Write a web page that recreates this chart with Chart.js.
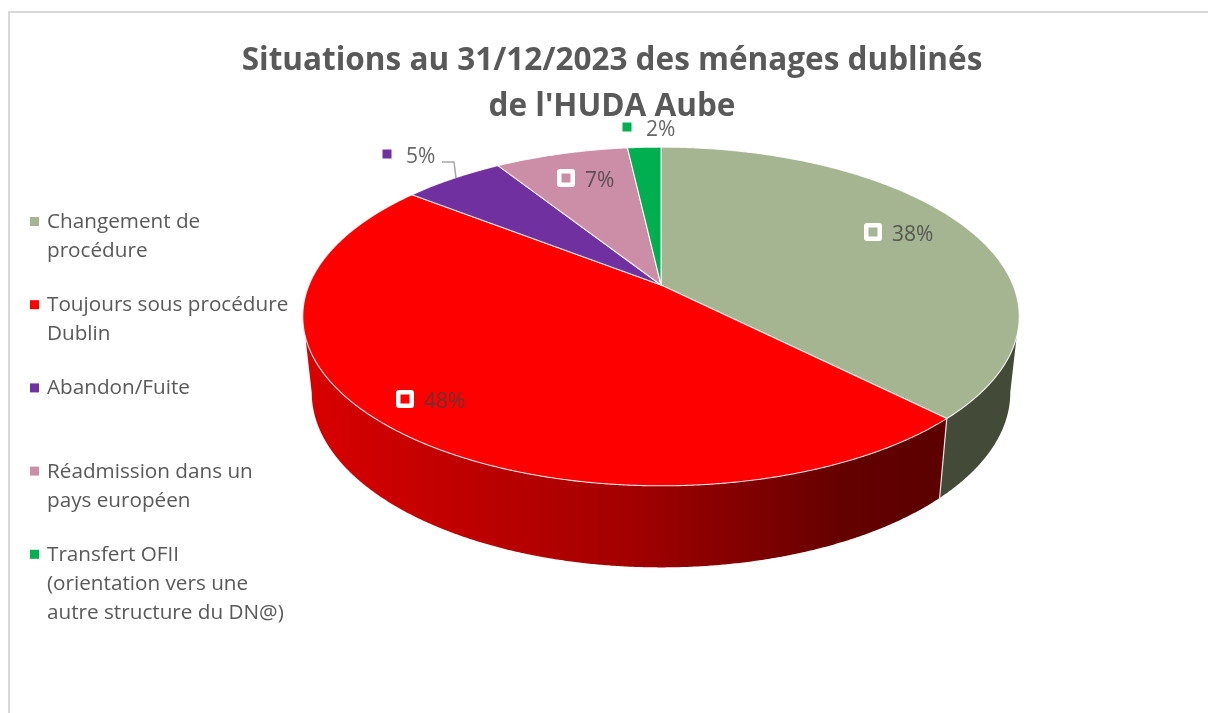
<!DOCTYPE html>
<html lang="fr">
<head>
<meta charset="utf-8">
<title>Situations des ménages dublinés</title>
<style>
html,body{margin:0;padding:0;background:#fff;overflow:hidden}
#frame{position:absolute;left:8px;top:11px;width:1300px;height:800px;border:2px solid #d9d9d9;box-sizing:border-box}
#chart{position:absolute;left:0;top:0}
</style>
<script src="https://cdn.jsdelivr.net/npm/chart.js@4"></script>
</head>
<body>
<div id="frame"></div>
<canvas id="chart" width="1208" height="713"></canvas>
<script>
const titleLines = ["Situations au 31/12/2023 des ménages dublinés", "de l'HUDA Aube"];
const categories = ["Changement de procédure", "Toujours sous procédure Dublin", "Abandon/Fuite", "Réadmission dans un pays européen", "Transfert OFII (orientation vers une autre structure du DN@)"];
const legendLines = [["Changement de", "procédure"], ["Toujours sous procédure", "Dublin"], ["Abandon/Fuite"], ["Réadmission dans un", "pays européen"], ["Transfert OFII", "(orientation vers une", "autre structure du DN@)"]];
const shares = [37.55, 48.0, 5.45, 7.2, 1.8];
const sliceColors = ["#A5B592", "#FF0000", "#7030A0", "#CC8DA6", "#00B050"];

/* projection of the flat pie into the tilted, perspective view */
const VIEW = {cx: 661, cy: 285, tilt: 0.4645, k: 0.1858, depthY: 75, depthScale: 0.975, depthTilt: 0.492};
const FONT = '"Open Sans", "Noto Sans", sans-serif';
const labelAnchors = [[873, 232], [405, 399], [387, 154], [566, 178], [627, 127]];
const labelOnPie = [true, true, false, true, false];

function project(t, R, low) {
  const u = Math.sin(t), v = Math.cos(t), w = 1 + VIEW.k * v;
  const s = low ? VIEW.depthScale : 1;
  const tilt = low ? VIEW.depthTilt : VIEW.tilt;
  return [VIEW.cx + s * R * u / w, VIEW.cy + (low ? VIEW.depthY : 0) - s * R * tilt * v / w];
}
function trace(ctx, t1, t2, R, low, first) {
  const n = Math.max(2, Math.ceil(Math.abs(t2 - t1) / 0.005));
  for (let i = 0; i <= n; i++) {
    const p = project(t1 + (t2 - t1) * i / n, R, low);
    if (i === 0 && first) ctx.moveTo(p[0], p[1]); else ctx.lineTo(p[0], p[1]);
  }
}

const pie3d = {
  id: 'pie3d',
  beforeDatasetsDraw(chart) {
    const ctx = chart.ctx;
    const arcs = chart.getDatasetMeta(0).data;
    const TOP = [1.875, 4.408], LOW = [1.757, 4.526];
    const grad = ctx.createLinearGradient(310, 0, 941, 0);
    grad.addColorStop(0, '#D80000');
    grad.addColorStop(0.5, '#A40000');
    grad.addColorStop(0.85, '#640000');
    grad.addColorStop(1, '#5C0000');
    const wallColors = ['#444A38', grad];
    /* side walls */
    arcs.forEach((arc, i) => {
      const a = arc.startAngle + Math.PI / 2, b = arc.endAngle + Math.PI / 2, R = arc.outerRadius;
      if (b <= TOP[0] || a >= TOP[1]) return;
      const t1 = Math.max(a, TOP[0]), t2 = Math.min(b, TOP[1]);
      const l1 = Math.max(a, LOW[0]), l2 = Math.min(b, LOW[1]);
      ctx.beginPath();
      trace(ctx, t1, t2, R, false, true);
      trace(ctx, l2, l1, R, true, false);
      ctx.closePath();
      ctx.fillStyle = wallColors[i] || arc.options.backgroundColor;
      ctx.fill();
      if (a > TOP[0] && a < TOP[1]) {
        const p = project(a, R, false), q = project(a, R, true);
        ctx.beginPath(); ctx.moveTo(p[0], p[1]); ctx.lineTo(q[0], q[1]);
        ctx.strokeStyle = '#E8E8E8'; ctx.lineWidth = 1.2; ctx.stroke();
      }
    });
    /* top face */
    arcs.forEach((arc) => {
      const a = arc.startAngle + Math.PI / 2, b = arc.endAngle + Math.PI / 2;
      ctx.beginPath();
      ctx.moveTo(VIEW.cx, VIEW.cy);
      trace(ctx, a, b, arc.outerRadius, false, false);
      ctx.closePath();
      ctx.fillStyle = arc.options.backgroundColor;
      ctx.fill();
      ctx.strokeStyle = 'rgba(255,255,255,0.85)';
      ctx.lineWidth = 1.1;
      ctx.lineJoin = 'round';
      ctx.stroke();
    });
    return false;
  },
  afterDraw(chart) {
    const ctx = chart.ctx;
    ctx.save();
    /* leader line for the 5% label */
    ctx.beginPath();
    ctx.moveTo(442, 162); ctx.lineTo(454, 162); ctx.lineTo(456, 178);
    ctx.strokeStyle = '#A6A6A6'; ctx.lineWidth = 1.5; ctx.stroke();

    /* data labels */
    ctx.textBaseline = 'alphabetic';
    ctx.textAlign = 'left';
    ctx.font = '21px ' + FONT;
    shares.forEach((v, i) => {
      const [x, y] = labelAnchors[i];
      if (labelOnPie[i]) {
        ctx.beginPath();
        ctx.roundRect(x - 9, y - 9, 18, 18, 3);
        ctx.fillStyle = '#fff';
        ctx.fill();
      }
      ctx.fillStyle = sliceColors[i];
      ctx.fillRect(x - 4.5, y - 4.5, 9, 9);
      ctx.fillStyle = 'rgba(64,64,64,0.8)';
      ctx.fillText(Math.round(v) + '%', x + 19, y + 9);
    });

    /* legend */
    ctx.font = '20.7px ' + FONT;
    legendLines.forEach((lines, i) => {
      const y = 221 + 83.2 * i;
      ctx.fillStyle = sliceColors[i];
      ctx.fillRect(30, y - 4, 9, 9);
      ctx.fillStyle = '#595959';
      lines.forEach((line, j) => ctx.fillText(line, 47, y + 7 + 29 * j));
    });
    ctx.restore();
  }
};

new Chart(document.getElementById('chart'), {
  type: 'pie',
  data: {
    labels: categories,
    datasets: [{data: shares, backgroundColor: sliceColors, borderWidth: 0}]
  },
  options: {
    responsive: false,
    animation: false,
    radius: 352,
    layout: {padding: {left: 16}},
    events: [],
    plugins: {
      legend: {display: false},
      tooltip: {enabled: false},
      title: {
        display: true,
        text: titleLines,
        color: '#595959',
        align: 'center',
        font: {family: FONT, size: 31.5, weight: '700', lineHeight: 1.46},
        padding: {top: 38, bottom: 0}
      }
    }
  },
  plugins: [pie3d]
});
</script>
</body>
</html>
